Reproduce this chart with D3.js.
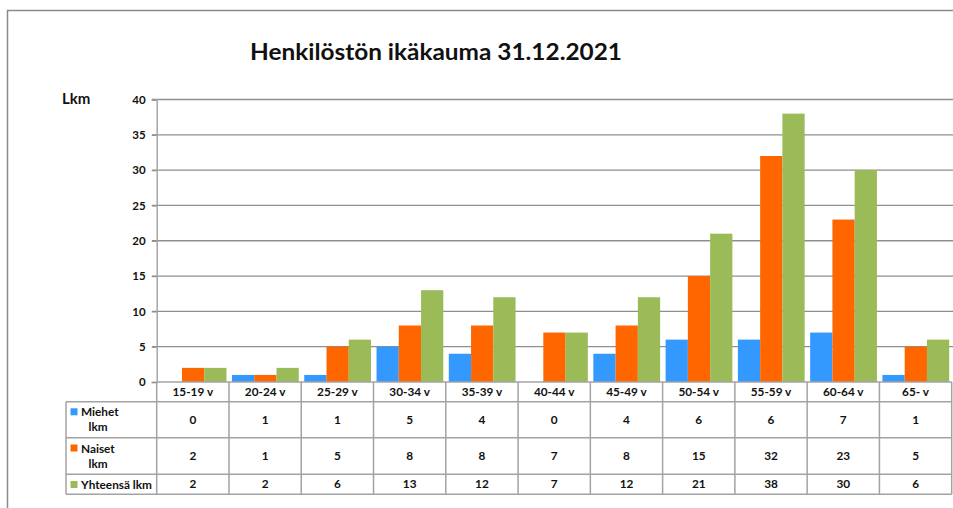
<!DOCTYPE html>
<html><head><meta charset="utf-8">
<script src="https://cdn.jsdelivr.net/npm/d3@7"></script>
<style>body{margin:0;background:#fff}svg{display:block}text{font-family:Lato,"Open Sans",sans-serif;fill:#111}</style>
</head><body><svg id="c" width="953" height="508"></svg>
<script>
const categories = ["15-19 v","20-24 v","25-29 v","30-34 v","35-39 v","40-44 v","45-49 v","50-54 v","55-59 v","60-64 v","65- v"];
const miehet = [0,1,1,5,4,0,4,6,6,7,1];
const naiset = [2,1,5,8,8,7,8,15,32,23,5];
const yhteensa = [2,2,6,13,12,7,12,21,38,30,6];
const seriesNames = [["Miehet","lkm"],["Naiset","lkm"],["Yhteensä lkm"]];
const seriesColors = ["#3399ff","#ff6600","#9bbb59"];
const yTicks = [0,5,10,15,20,25,30,35,40];
const title = "Henkilöstön ikäkauma 31.12.2021";
const yLabel = "Lkm";

const svg = d3.select("#c");
const series = [miehet, naiset, yhteensa];

const x0 = 156.7, x1 = 951.7, yTop = 99.5, yBase = 382;
const x = d3.scaleBand().domain(categories).range([x0, x1]);
const xs = d3.scaleBand().domain([0,1,2]).range([3, x.bandwidth()-2.5]);
const y = d3.scaleLinear().domain([0,40]).range([yBase, yTop]);

// outer frame
svg.append("path").attr("d","M7.5,508 V10.5 H953").attr("fill","none").attr("stroke","#8a8a8a").attr("stroke-width",1.5);

// title
svg.append("text").attr("x",436).attr("y",60).attr("text-anchor","middle")
  .attr("font-size",23).attr("font-weight","bold").attr("textLength",372).attr("lengthAdjust","spacingAndGlyphs").text(title);
svg.append("text").attr("x",62).attr("y",104).attr("font-size",15).attr("font-weight","bold").text(yLabel);

// gridlines & axis
const grid = svg.append("g");
grid.selectAll("line").data(yTicks.filter(d=>d>0)).join("line")
  .attr("x1",152).attr("x2",953).attr("y1",d=>y(d)).attr("y2",d=>y(d))
  .attr("stroke","#8f8f8f").attr("stroke-width",1.3);
const yAxis = d3.axisLeft(y).tickValues(yTicks).tickSize(5).tickPadding(6);
const ga = svg.append("g").attr("transform",`translate(${x0},0)`).call(yAxis);
ga.select(".domain").attr("stroke","#a6a6a6").attr("stroke-width",1.5);
ga.selectAll(".tick line").attr("stroke","#8f8f8f").attr("stroke-width",1.3);
ga.selectAll(".tick text").attr("font-size",11.5).attr("font-weight","bold").attr("font-family","Lato").attr("fill","#111");

// bars
const bars = svg.append("g");
series.forEach((vals,si)=>{
  bars.append("g").selectAll("rect").data(vals).join("rect")
    .attr("x",(d,i)=>x(categories[i])+xs(si))
    .attr("width",xs.bandwidth())
    .attr("y",d=>y(d)).attr("height",d=>yBase-y(d))
    .attr("fill",seriesColors[si]);
});

// table
const rowY = [yBase, 401.7, 437.7, 474.3, 494.3];
const legX = 66;
const tb = svg.append("g").attr("stroke","#a3a3a3").attr("stroke-width",1.5);
tb.append("line").attr("x1",x0).attr("x2",x1).attr("y1",rowY[0]).attr("y2",rowY[0]);
rowY.slice(1).forEach(v=>tb.append("line").attr("x1",legX).attr("x2",x1).attr("y1",v).attr("y2",v));
tb.append("line").attr("x1",legX).attr("x2",legX).attr("y1",rowY[1]).attr("y2",rowY[4]);
const vx = categories.map(c=>x(c)).concat([x1]);
vx.forEach(v=>tb.append("line").attr("x1",v).attr("x2",v).attr("y1",rowY[0]).attr("y2",rowY[4]));

const tt = svg.append("g").attr("font-size",11.8).attr("font-weight","bold");
categories.forEach((c,i)=>{
  const cx = x(c)+x.bandwidth()/2;
  tt.append("text").attr("x",cx).attr("y",396).attr("text-anchor","middle").text(c);
  series.forEach((vals,si)=>{
    const cy = (rowY[si+1]+rowY[si+2])/2 + 4;
    tt.append("text").attr("x",cx).attr("y",cy).attr("text-anchor","middle").text(vals[i]);
  });
});
// legend cells
const legTop = [408.3, 444.5, 481];
seriesNames.forEach((nm,si)=>{
  svg.append("rect").attr("x",70.5).attr("y",legTop[si]).attr("width",7).attr("height",7).attr("fill",seriesColors[si]);
  tt.append("text").attr("x",81).attr("y",legTop[si]+8).text(nm[0]);
  if(nm[1]) tt.append("text").attr("x",88.5).attr("y",legTop[si]+23).text(nm[1]);
});
</script></body></html>
